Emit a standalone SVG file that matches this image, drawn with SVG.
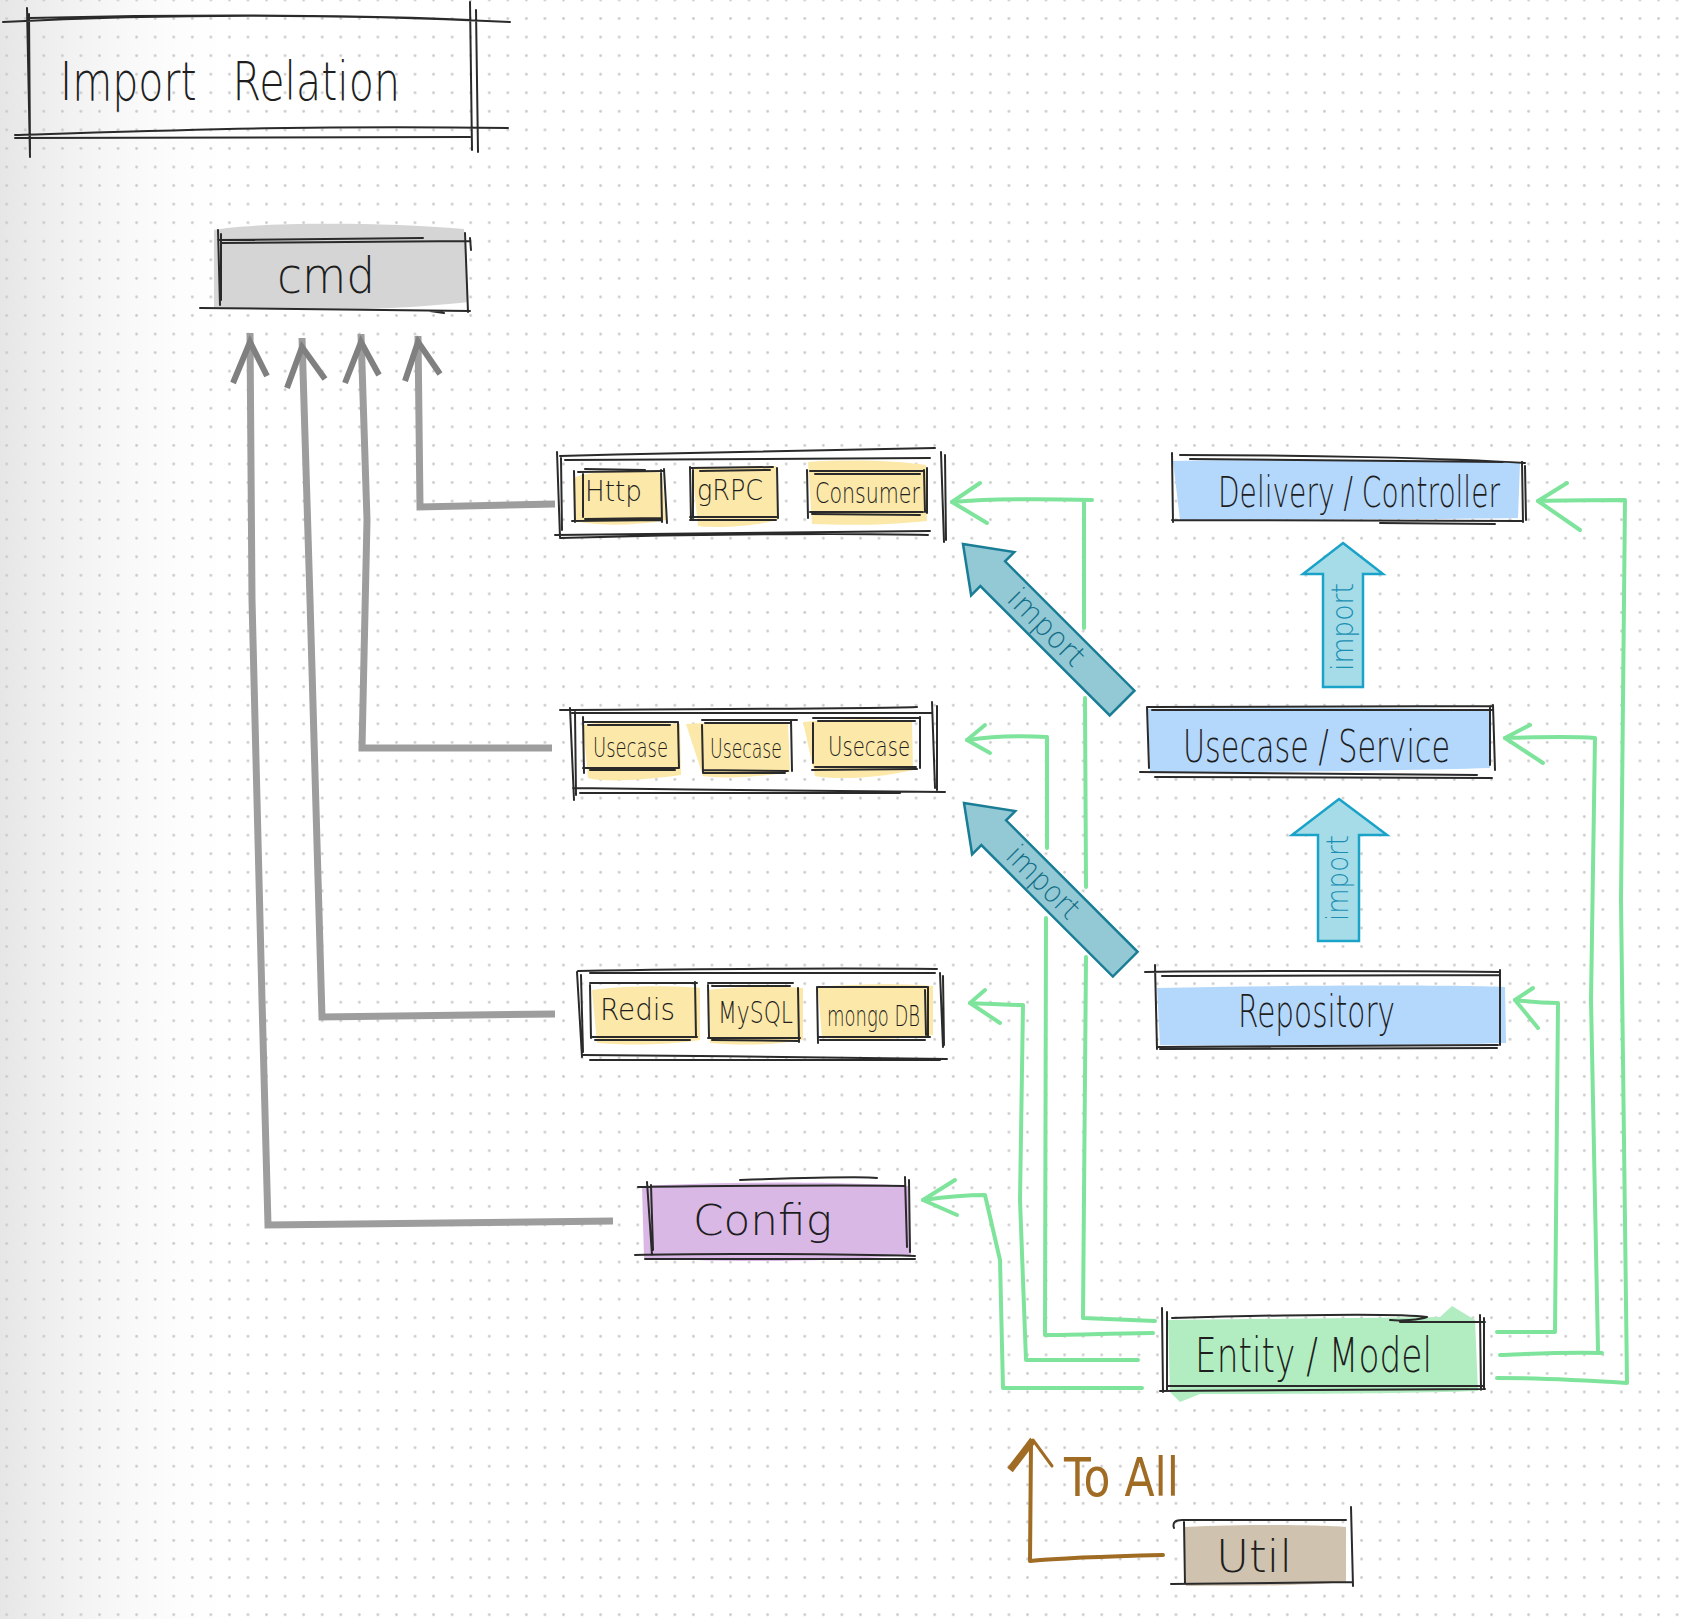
<svg xmlns="http://www.w3.org/2000/svg" width="1688" height="1619" viewBox="0 0 1688 1619">
<defs>
<pattern id="dots" patternUnits="userSpaceOnUse" x="-2.58" y="-9.28" width="18.56" height="18.56">
<circle cx="9.28" cy="9.28" r="1.4" fill="#cacaca"/>
</pattern>
<linearGradient id="shade" x1="0" y1="0" x2="1" y2="0">
<stop offset="0" stop-color="#e6e6e6" stop-opacity="1"/>
<stop offset="1" stop-color="#ffffff" stop-opacity="0"/>
</linearGradient>
<style>
.ln{stroke:#2a2a2a;stroke-width:2;fill:none;stroke-linecap:round;stroke-linejoin:round}
.gr{stroke:#7ee49c;stroke-width:4;fill:none;stroke-linecap:round;stroke-linejoin:round}
.ga{stroke:#9d9d9d;stroke-width:7;fill:none;stroke-linejoin:miter}
.gh{stroke:#808080;stroke-width:6;fill:none;stroke-linecap:butt;stroke-linejoin:miter}
.t{font-family:'DejaVu Sans','Liberation Sans',sans-serif;font-weight:200;fill:#1e1e1e}
.yel{fill:#fce8a8}
.blue{fill:#b4d7fc}
.diag{fill:#93c8d5;stroke:#1a7d96;stroke-width:2.5;stroke-linejoin:miter}
.up{fill:#a5dce8;stroke:#1aa2c8;stroke-width:2.5;stroke-linejoin:miter}
.imp{font-family:'DejaVu Sans','Liberation Sans',sans-serif;font-weight:200;font-size:30px}
</style>
</defs>
<rect width="1688" height="1619" fill="#ffffff"/>
<rect x="0" y="0" width="260" height="1619" fill="url(#shade)"/>
<rect width="1688" height="1619" fill="url(#dots)"/>

<g id="title">
<path class="ln" d="M3,22 C120,16 300,12 510,22 M30,18 C200,14 380,15 470,20 M27,8 L30,157 M29,14 L30,150 M470,2 L472,150 M476,10 L478,152 M15,135 C150,131 300,125 508,128 M15,138 L470,137"/>
<text class="t" x="60" y="100" font-size="54" textLength="340" lengthAdjust="spacingAndGlyphs" word-spacing="30">Import Relation</text>
</g>

<g id="cmd">
<path d="M214,230 C260,222 380,222 464,229 L468,302 C400,310 300,312 214,307 Z" fill="#d5d5d5"/>
<path class="ln" d="M218,240 L423,238 M222,243 L470,241 M218,230 L220,305 M221,234 L221,300 M465,233 L468,312 M470,238 L471,250 M200,308 L470,311 M430,311 L444,313"/>
<text class="t" x="326" y="293" font-size="50" text-anchor="middle" textLength="98" lengthAdjust="spacingAndGlyphs">cmd</text>
</g>

<g id="delivery-impl">
<path class="yel" d="M573,480 C576,470 640,470 662,473 L666,520 C630,527 590,525 575,521 Z"/>
<path class="yel" d="M692,468 L776,466 L778,520 C750,527 715,528 698,526 Z"/>
<path class="yel" d="M808,462 C850,459 900,461 926,465 L927,521 C880,526 840,525 812,524 Z"/>
<path class="ln" d="M557,452 L560,537 M561,458 L562,530 M560,456 C700,452 850,449 935,448 M565,460 L930,458 M941,452 L944,542 M945,455 L946,540 M555,535 L930,531 M560,538 C700,534 850,533 928,535"/>
<path class="ln" d="M574,471 L575,522 M583,474 L583,517 M578,472 L663,471 M585,469 L645,470 M664,469 L667,523 M661,470 L662,522 M572,521 L662,520 M585,519 L662,518"/>
<path class="ln" d="M690,467 L691,520 M693,470 L693,518 M690,468 L773,467 M700,471 L770,470 M777,468 L778,518 M690,517 L778,517 M690,520 L776,520"/>
<path class="ln" d="M807,470 L808,518 M810,471 L923,471 M815,474 L920,474 M927,468 L927,513 M924,470 L925,512 M810,512 L923,512 M812,514 L920,515"/>
<text class="t" x="585" y="501" font-size="29" textLength="57" lengthAdjust="spacingAndGlyphs">Http</text>
<text class="t" x="697" y="500" font-size="29" textLength="66" lengthAdjust="spacingAndGlyphs">gRPC</text>
<text class="t" x="815" y="503" font-size="29" textLength="105" lengthAdjust="spacingAndGlyphs">Consumer</text>
</g>

<g id="usecase-impl">
<path class="yel" d="M583,725 C600,721 650,722 680,724 L681,775 C640,781 600,782 588,778 Z"/>
<path class="yel" d="M686,724 C720,722 760,722 788,724 L790,772 C750,779 715,778 703,776 Z"/>
<path class="yel" d="M803,722 C850,718 890,719 912,721 L913,770 C870,780 830,779 815,776 Z"/>
<path class="ln" d="M560,710 C700,709 850,709 917,707 M572,713 L932,713 M570,708 L574,800 M575,712 L576,795 M932,702 L935,788 M937,706 L937,790 M573,788 C700,790 850,791 945,792 M580,793 L900,793"/>
<path class="ln" d="M583,717 L584,773 M583,722 L677,722 M588,725 L670,725 M678,722 L679,768 M583,768 L678,768 M590,770 L675,770"/>
<path class="ln" d="M702,725 L703,773 M702,720 L797,720 M705,723 L790,723 M791,720 L792,771 M703,770 L788,771 M703,773 L785,773"/>
<path class="ln" d="M813,723 L813,763 M813,718 L920,718 M818,721 L915,721 M920,717 L920,768 M812,770 L917,769 M815,767 L916,767"/>
<text class="t" x="593" y="757" font-size="27" textLength="75" lengthAdjust="spacingAndGlyphs">Usecase</text>
<text class="t" x="710" y="758" font-size="27" textLength="72" lengthAdjust="spacingAndGlyphs">Usecase</text>
<text class="t" x="828" y="756" font-size="27" textLength="82" lengthAdjust="spacingAndGlyphs">Usecase</text>
</g>

<g id="repository-impl">
<path class="yel" d="M592,990 C630,985 680,986 700,988 L700,1040 C660,1046 620,1045 597,1043 Z"/>
<path class="yel" d="M708,990 C740,986 780,986 803,988 L803,1040 C770,1046 730,1045 710,1043 Z"/>
<path class="yel" d="M818,987 C860,983 910,984 933,986 L933,1035 C900,1040 850,1040 822,1038 Z"/>
<path class="ln" d="M578,971 C700,969 850,968 937,969 M590,973 L935,973 M577,972 L582,1057 M581,975 L583,1052 M940,973 L943,1047 M943,976 L944,1045 M583,1055 C700,1056 850,1057 947,1059 M590,1060 L940,1060"/>
<path class="ln" d="M590,985 L591,1038 M590,983 L697,983 M695,982 L696,1037 M591,1037 L697,1037 M595,1040 L690,1040"/>
<path class="ln" d="M708,985 L709,1037 M708,983 L793,983 M712,986 L790,986 M798,988 L799,1042 M708,1038 L800,1038 M712,1040 L798,1041"/>
<path class="ln" d="M817,987 L818,1043 M818,987 L927,987 M928,987 L928,1037 M925,990 L926,1035 M818,1037 L930,1037 M820,1040 L925,1040"/>
<text class="t" x="600" y="1020" font-size="30" textLength="75" lengthAdjust="spacingAndGlyphs">Redis</text>
<text class="t" x="718" y="1023" font-size="30" textLength="75" lengthAdjust="spacingAndGlyphs">MySQL</text>
<text class="t" x="827" y="1026" font-size="28" textLength="93" lengthAdjust="spacingAndGlyphs">mongo DB</text>
</g>

<g id="config">
<path d="M642,1186 C720,1181 850,1182 908,1186 L911,1255 C800,1264 700,1261 644,1258 Z" fill="#dab8e5"/>
<path class="ln" d="M647,1182 L652,1255 M651,1185 L653,1250 M638,1187 C700,1186 850,1185 905,1186 M740,1180 C800,1178 860,1176 877,1178 M905,1177 L907,1247 M909,1180 L910,1252 M635,1255 C700,1253 850,1254 915,1256 M645,1259 L915,1259"/>
<text class="t" x="693" y="1235" font-size="42" textLength="139" lengthAdjust="spacingAndGlyphs">Config</text>
</g>

<g id="delivery">
<path class="blue" d="M1173,461 C1300,459 1450,460 1520,463 L1518,518 C1400,520 1250,519 1180,520 Z"/>
<path class="ln" d="M1172,453 L1173,522 M1180,455 C1300,455 1450,458 1525,463 M1190,459 L1503,462 M1522,462 L1523,522 M1525,466 L1526,520 M1172,520 L1522,521 M1380,523 L1495,524"/>
<text class="t" x="1218" y="507" font-size="42" textLength="282" lengthAdjust="spacingAndGlyphs">Delivery / Controller</text>
</g>

<g id="usecase">
<path class="blue" d="M1148,709 C1300,707 1450,708 1490,710 L1490,768 C1400,771 1250,772 1150,773 Z"/>
<path class="ln" d="M1147,707 L1149,768 M1147,707 L1493,706 M1152,710 L1493,710 M1493,705 L1495,770 M1490,708 L1490,765 M1140,772 L1477,775 M1155,777 L1492,778"/>
<text class="t" x="1183" y="762" font-size="44" textLength="267" lengthAdjust="spacingAndGlyphs">Usecase / Service</text>
</g>

<g id="repository">
<path class="blue" d="M1157,988 C1300,985 1450,985 1505,987 L1506,1043 C1400,1046 1250,1046 1160,1045 Z"/>
<path class="ln" d="M1155,965 L1157,1049 M1145,972 C1300,970 1400,971 1500,972 M1162,976 C1300,975 1400,975 1500,975 M1500,970 L1500,1045 M1157,1047 L1498,1045 M1160,1049 L1497,1048"/>
<text class="t" x="1238" y="1027" font-size="44" textLength="157" lengthAdjust="spacingAndGlyphs">Repository</text>
</g>

<g id="entity">
<path d="M1168,1320 L1440,1317 L1452,1306 L1475,1320 L1478,1391 C1400,1394 1250,1394 1200,1394 L1180,1402 L1170,1392 Z" fill="#b1edc0"/>
<path class="ln" d="M1162,1308 L1163,1392 M1167,1312 L1167,1390 M1172,1318 C1280,1315 1400,1313 1427,1317 C1420,1320 1400,1321 1390,1320 M1400,1322 L1485,1322 M1480,1315 L1481,1390 M1484,1318 L1484,1388 M1160,1391 L1485,1389 M1168,1386 L1483,1386"/>
<text class="t" x="1195" y="1372" font-size="48" textLength="237" lengthAdjust="spacingAndGlyphs">Entity / Model</text>
</g>

<g id="util">
<path d="M1184,1527 C1250,1524 1320,1525 1346,1527 L1346,1582 C1300,1586 1230,1586 1186,1586 Z" fill="#cfc2af"/>
<path class="ln" d="M1174,1528 C1172,1522 1176,1520 1182,1520 L1346,1520 M1184,1522 L1185,1584 M1351,1507 L1353,1586 M1171,1584 L1353,1582"/>
<text class="t" x="1216" y="1572" font-size="44" textLength="76" lengthAdjust="spacingAndGlyphs">Util</text>
</g>

<g id="connectors">
<g id="gray-arrows">
<path class="ga" d="M250,333 L252,600 L262,1000 L268,1225 L613,1221"/>
<path class="ga" d="M302,338 L310,600 L322,1017 L555,1014"/>
<path class="ga" d="M361,334 L367,520 L362,748 L552,748"/>
<path class="ga" d="M418,336 L420,507 L555,504"/>
<path class="gh" d="M233,383 L250,342 L267,376"/>
<path class="gh" d="M287,388 L302,347 L325,379"/>
<path class="gh" d="M345,383 L361,342 L379,375"/>
<path class="gh" d="M405,381 L418,342 L440,374"/>
</g>
<g id="green-lines">
<path class="gr" d="M980,483 L952,502 L987,523"/>
<path class="gr" d="M952,502 C1000,498 1050,499 1092,500 M1084,500 L1084,628 M1085,698 L1086,887 M1086,957 L1083,1318 C1110,1319 1130,1320 1155,1321"/>
<path class="gr" d="M985,725 L967,740 L990,753"/>
<path class="gr" d="M967,740 C1000,735 1030,736 1047,737 L1047,848 M1046,918 L1045,1335 C1080,1335 1120,1333 1153,1333"/>
<path class="gr" d="M985,990 L970,1003 L1000,1023"/>
<path class="gr" d="M970,1003 C990,1004 1010,1005 1023,1005 L1020,1200 L1026,1360 L1138,1360"/>
<path class="gr" d="M955,1180 L923,1200 L957,1215"/>
<path class="gr" d="M923,1200 C945,1197 965,1195 985,1195 L1000,1260 L1003,1388 L1142,1388"/>
<path class="gr" d="M1567,483 L1538,501 L1580,530"/>
<path class="gr" d="M1538,501 C1570,500 1600,500 1625,500 L1621,900 L1627,1383 C1580,1380 1530,1378 1497,1378"/>
<path class="gr" d="M1530,725 L1505,738 L1543,763"/>
<path class="gr" d="M1505,738 C1540,737 1570,736 1595,738 L1591,1000 L1598,1350 M1602,1353 C1560,1352 1530,1354 1500,1355"/>
<path class="gr" d="M1533,988 L1515,1000 L1538,1028"/>
<path class="gr" d="M1515,1000 C1530,1002 1545,1003 1558,1003 L1555,1332 L1497,1332"/>
</g>
<g id="import-arrows">
<g transform="translate(963,544) rotate(-45)">
<polygon class="diag" points="0,0 30.5,42 17.5,42 17.5,225 -17.5,225 -17.5,42 -30.5,42"/>
<text class="imp" fill="#106e86" transform="translate(0,118) rotate(90)" text-anchor="middle" y="10" textLength="96" lengthAdjust="spacingAndGlyphs">import</text>
</g>
<g transform="translate(964,803) rotate(-45)">
<polygon class="diag" points="0,0 30.5,42 17.5,42 17.5,228 -17.5,228 -17.5,42 -30.5,42"/>
<text class="imp" fill="#106e86" transform="translate(0,112) rotate(90)" text-anchor="middle" y="10" textLength="90" lengthAdjust="spacingAndGlyphs">import</text>
</g>
<polygon class="up" points="1343,543 1383,574 1363,574 1363,687 1323,687 1323,574 1303,574"/>
<text class="imp" fill="#1a8fb3" transform="translate(1343,627) rotate(-90)" text-anchor="middle" y="10" textLength="88" lengthAdjust="spacingAndGlyphs">import</text>
<polygon class="up" points="1339,799 1387,835 1359,835 1359,941 1318,941 1318,835 1292,835"/>
<text class="imp" fill="#1a8fb3" transform="translate(1338,878) rotate(-90)" text-anchor="middle" y="10" textLength="86" lengthAdjust="spacingAndGlyphs">import</text>
</g>
<g id="to-all">
<path d="M1163,1555 C1120,1556 1060,1558 1030,1561 L1031,1442" fill="none" stroke="#a06b22" stroke-width="4" stroke-linecap="round" stroke-linejoin="round"/>
<path d="M1010,1470 L1033,1440" fill="none" stroke="#a06b22" stroke-width="7" stroke-linecap="butt"/>
<path d="M1033,1440 L1052,1466" fill="none" stroke="#a06b22" stroke-width="3" stroke-linecap="round"/>
<text x="1064" y="1496" font-family="'DejaVu Sans','Liberation Sans',sans-serif" font-size="54" fill="#a06b22" textLength="115" lengthAdjust="spacingAndGlyphs">To All</text>
</g>
</g>
</svg>
